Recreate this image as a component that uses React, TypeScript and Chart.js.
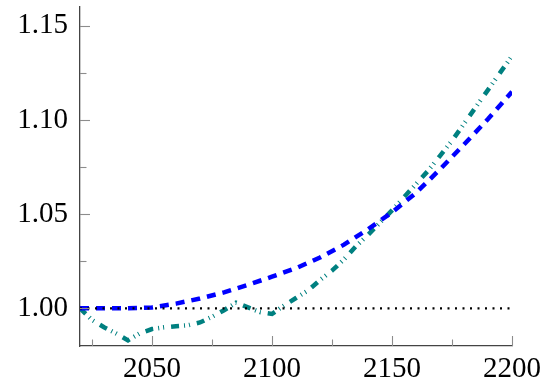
import { useEffect, useRef } from 'react';
import { Chart, registerables } from 'chart.js';

Chart.register(...registerables);

// ---- data ----
const refYears = [2020, 2200];
const refValues = [1.0, 1.0];

const blueYears = [2020, 2030, 2040, 2050, 2060, 2070, 2080, 2090, 2100, 2110, 2120, 2130, 2140, 2150, 2160, 2170, 2180, 2190, 2200];
const blueValues = [1.0, 1.0, 1.0, 1.0005, 1.0025, 1.0052, 1.0085, 1.0125, 1.0168, 1.0213, 1.027, 1.0338, 1.042, 1.051, 1.0613, 1.0738, 1.087, 1.1005, 1.115];

const tealYears = [2020, 2025, 2030, 2035, 2040, 2045, 2050, 2055, 2060, 2065, 2070, 2075, 2080, 2085, 2090, 2095, 2100, 2105, 2110, 2115, 2120, 2125, 2130, 2135, 2140, 2145, 2150, 2155, 2160, 2165, 2170, 2175, 2180, 2185, 2190, 2195, 2200];
const tealValues = [1.0, 0.9938, 0.990, 0.9867, 0.983, 0.9868, 0.989, 0.9899, 0.9905, 0.991, 0.9925, 0.9955, 0.999, 1.003, 1.0005, 0.998, 0.997, 1.0015, 1.0055, 1.0095, 1.015, 1.020, 1.026, 1.033, 1.039, 1.0455, 1.052, 1.059, 1.066, 1.073, 1.081, 1.089, 1.098, 1.107, 1.116, 1.125, 1.134];

const xMajorTicks = [2050, 2100, 2150, 2200];
const xMinorTicks = [2025, 2075, 2125, 2175];
const yMajorTicks = [1.0, 1.05, 1.1, 1.15];
const yMinorTicks = [1.025, 1.075, 1.125];

const toPoints = (xs: number[], ys: number[]) => xs.map((x, i) => ({ x, y: ys[i] }));

const innerTicks = {
  id: 'innerTicks',
  afterDatasetsDraw(chart: any) {
    const { ctx, chartArea, scales } = chart;
    const xs = scales.x;
    const ys = scales.y;
    ctx.save();
    ctx.strokeStyle = '#8c8c8c';
    ctx.lineWidth = 1.1;
    const drawX = (v: number, len: number) => {
      const px = Math.round(xs.getPixelForValue(v)) + 0.5;
      ctx.beginPath();
      ctx.moveTo(px, chartArea.bottom);
      ctx.lineTo(px, chartArea.bottom - len);
      ctx.stroke();
    };
    const drawY = (v: number, len: number) => {
      const py = Math.round(ys.getPixelForValue(v)) + 0.5;
      ctx.beginPath();
      ctx.moveTo(chartArea.left, py);
      ctx.lineTo(chartArea.left + len, py);
      ctx.stroke();
    };
    xMajorTicks.forEach((v) => drawX(v, 10));
    xMinorTicks.forEach((v) => drawX(v, 6.5));
    yMajorTicks.forEach((v) => drawY(v, 10));
    yMinorTicks.forEach((v) => drawY(v, 6.5));
    ctx.restore();
  },
};

export default function App() {
  const ref = useRef<HTMLCanvasElement | null>(null);

  useEffect(() => {
    if (!ref.current) return;
    const font = { family: '"Liberation Serif", serif', size: 29 };
    const chart = new Chart(ref.current, {
      type: 'line',
      data: {
        datasets: [
          {
            data: toPoints(refYears, refValues),
            borderColor: '#000000',
            borderWidth: 2.2,
            borderDash: [2, 5.5],
            pointRadius: 0,
            order: 0,
          },
          {
            data: toPoints(blueYears, blueValues),
            borderColor: '#0000ff',
            borderWidth: 4.5,
            borderDash: [9, 7],
            pointRadius: 0,
            order: 1,
          },
          {
            data: toPoints(tealYears, tealValues),
            borderColor: '#008080',
            borderWidth: 4.5,
            borderDash: [8, 5, 1, 4, 1, 7],
            pointRadius: 0,
            order: 2,
          },
        ],
      },
      options: {
        animation: false,
        responsive: false,
        maintainAspectRatio: false,
        layout: { padding: { top: 7, right: 32, left: 0, bottom: 0 } },
        plugins: { legend: { display: false }, tooltip: { enabled: false } },
        elements: { line: { tension: 0, borderCapStyle: 'butt' } },
        scales: {
          x: {
            type: 'linear',
            min: 2020,
            max: 2200,
            grid: { display: false, drawTicks: false },
            border: { display: true, color: '#444444', width: 1.3 },
            ticks: {
              color: '#000000',
              font,
              padding: 6,
              maxRotation: 0,
              autoSkip: false,
              callback: (v: any) => String(v),
            },
            afterBuildTicks: (s: any) => {
              s.ticks = xMajorTicks.map((value) => ({ value }));
            },
            afterFit: (s: any) => {
              s.height = 37;
              s.paddingLeft = 0;
              s.paddingRight = 0;
            },
          },
          y: {
            type: 'linear',
            min: 0.98,
            max: 1.16,
            grid: { display: false, drawTicks: false },
            border: { display: true, color: '#444444', width: 1.3 },
            ticks: {
              color: '#000000',
              font,
              padding: 12,
              autoSkip: false,
              callback: (v: any) => Number(v).toFixed(2),
            },
            afterBuildTicks: (s: any) => {
              s.ticks = yMajorTicks.map((value) => ({ value }));
            },
            afterFit: (s: any) => {
              s.width = 80;
              s.paddingTop = 0;
              s.paddingBottom = 0;
            },
          },
        },
      },
      plugins: [innerTicks],
    });
    return () => chart.destroy();
  }, []);

  return (
    <div style={{ position: 'fixed', left: 0, top: 0, width: 544, height: 383, background: '#ffffff' }}>
      <canvas ref={ref} width={544} height={383} style={{ width: 544, height: 383, display: 'block' }} />
    </div>
  );
}
